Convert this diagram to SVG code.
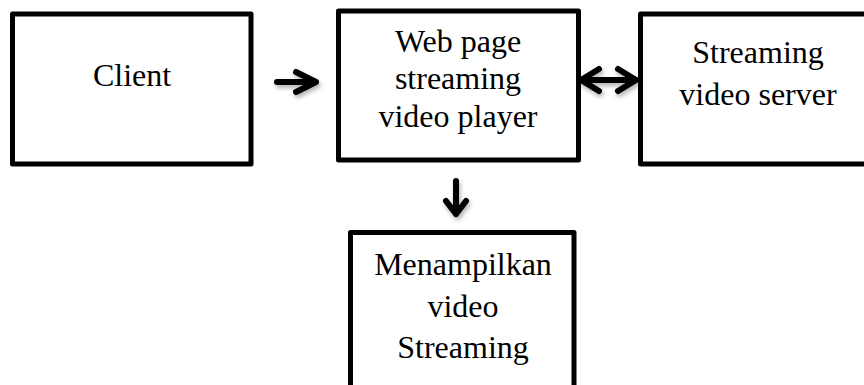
<svg xmlns="http://www.w3.org/2000/svg" width="864" height="385" viewBox="0 0 864 385">
  <style>
    .box { fill: #ffffff; stroke: #000000; stroke-width: 5; stroke-linejoin: round; }
    .label { font-family: "Liberation Serif", "Times New Roman", serif; font-size: 32px; fill: #000000; text-anchor: middle; }
    .arrow { fill: none; stroke: #000000; stroke-width: 6; stroke-linecap: round; stroke-linejoin: round; }
  </style>
  <defs>
    <filter id="soft-shadow" x="-30%" y="-30%" width="160%" height="160%">
      <feDropShadow dx="1.5" dy="3" stdDeviation="2" flood-color="#000000" flood-opacity="0.3"/>
    </filter>
  </defs>
  <rect width="864" height="385" fill="#ffffff"/>

  <g id="client">
    <rect class="box" x="12.5" y="14" width="238.5" height="150"/>
    <text class="label" x="132" y="86">Client</text>
  </g>

  <g id="player">
    <rect class="box" x="338.5" y="11" width="240" height="149"/>
    <text class="label" x="458" y="52">Web page</text>
    <text class="label" x="458" y="89">streaming</text>
    <text class="label" x="458" y="127">video player</text>
  </g>

  <g id="server">
    <rect class="box" x="640.5" y="14" width="236" height="150"/>
    <text class="label" x="758" y="63">Streaming</text>
    <text class="label" x="758" y="105">video server</text>
  </g>

  <g id="display">
    <rect class="box" x="350.5" y="232.5" width="223.5" height="170"/>
    <text class="label" x="463" y="275">Menampilkan</text>
    <text class="label" x="463" y="317">video</text>
    <text class="label" x="463" y="358">Streaming</text>
  </g>

  <g id="connectors" filter="url(#soft-shadow)">
    <!-- client to player -->
    <path class="arrow" d="M277 82 H316 M296 72 L316 82 L296 92"/>
    <!-- player to server, both ways -->
    <path class="arrow" d="M581 80 H636 M599 69 L581 80 L599 91 M618 69 L636 80 L618 91"/>
    <!-- player to display -->
    <path class="arrow" d="M456 181 V214 M446 201 L456 214 L466 201"/>
  </g>
</svg>
